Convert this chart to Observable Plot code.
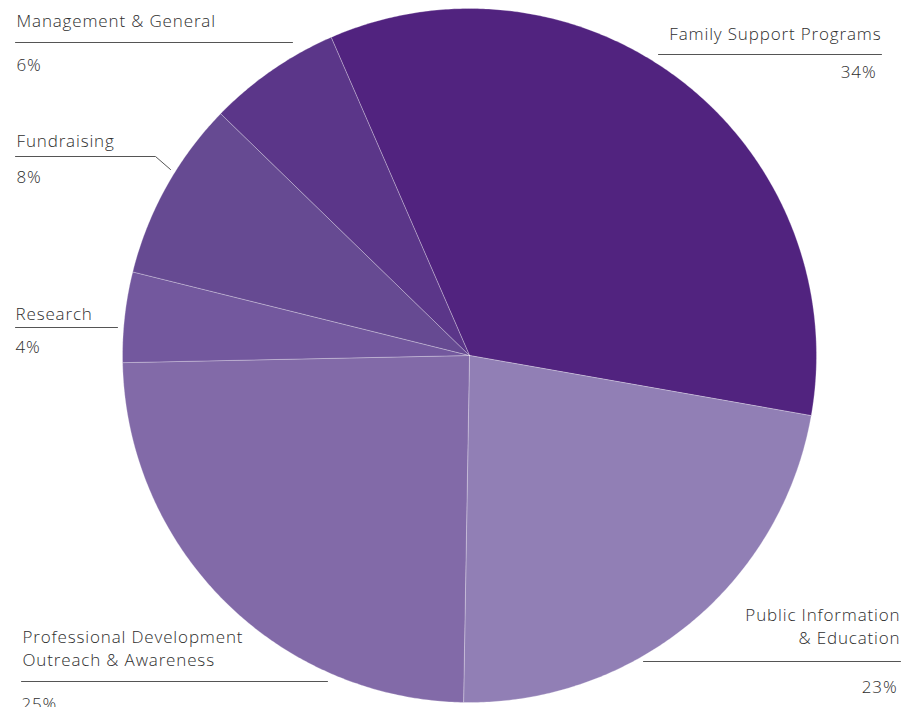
<!DOCTYPE html>
<html>
<head>
<meta charset="utf-8">
<script src="https://cdn.jsdelivr.net/npm/d3@7"></script>
<script src="https://cdn.jsdelivr.net/npm/@observablehq/plot@0.6"></script>
<style>
  html, body { margin: 0; padding: 0; background: #fff; }
  #chart svg { display: block; }
  #chart svg text { letter-spacing: 0.85px; }
</style>
</head>
<body>
<div id="chart"></div>
<script>
// ---- data ----
const categories = ["Family Support Programs", "Public Information\n& Education", "Professional Development\nOutreach & Awareness", "Research", "Fundraising", "Management & General"];
const shares = [34.3, 22.5, 24.4, 4.2, 8.4, 6.2];
const shareLabels = ["34%", "23%", "25%", "4%", "8%", "6%"];
const colors = ["#51237f", "#917fb5", "#826aa8", "#73589e", "#664a92", "#5b3689"];

// ---- layout (pixel units of the plot scales) ----
const W = 914, H = 707;
const cx = 469, cy = 355, R = 347;
const startDeg = -23.5;
const labelLayout = [
  {nx: 881, ny: 40, side: "end", r1: 658, r2: 881, ry: 54, px: 876, py: 77},
  {nx: 900, ny: 621, side: "end", r1: 643, r2: 900, ry: 661, px: 897, py: 692},
  {nx: 22, ny: 643, side: "start", r1: 21, r2: 327, ry: 681, px: 21, py: 709},
  {nx: 15, ny: 320, side: "start", r1: 15, r2: 117, ry: 327, px: 15, py: 352},
  {nx: 16, ny: 147, side: "start", r1: 15, r2: 155, ry: 156, px: 16, py: 182, ex: 170, ey: 169},
  {nx: 16, ny: 27, side: "start", r1: 15, r2: 292, ry: 42, px: 16, py: 70}
];

// ---- pie geometry from data ----
const rows = categories.map((c, i) => ({name: c, value: shares[i], pct: shareLabels[i], color: colors[i], ...labelLayout[i]}));
const arcs = d3.pie().sort(null).value(d => d.value)
  .startAngle(startDeg * Math.PI / 180)
  .endAngle(startDeg * Math.PI / 180 + 2 * Math.PI)(rows);

const slicePts = [];
arcs.forEach((a, i) => {
  const n = Math.max(8, Math.ceil((a.endAngle - a.startAngle) * 120));
  slicePts.push({k: i, x: cx, y: cy, color: a.data.color});
  for (let j = 0; j <= n; j++) {
    const t = a.startAngle + (a.endAngle - a.startAngle) * j / n;
    slicePts.push({k: i, x: cx + R * Math.sin(t), y: cy - R * Math.cos(t), color: a.data.color});
  }
  slicePts.push({k: i, x: cx, y: cy, color: a.data.color});
});

const rulePts = [];
rows.forEach((d, i) => {
  rulePts.push({k: i, x: d.r1, y: d.ry});
  rulePts.push({k: i, x: d.r2, y: d.ry});
  if (d.ex != null) rulePts.push({k: i, x: d.ex, y: d.ey});
});

const font = "'Open Sans', 'Noto Sans', sans-serif";
const leftRows = rows.filter(d => d.side === "start");
const rightRows = rows.filter(d => d.side === "end");
const textOpts = {lineAnchor: "bottom", fontSize: 17, fontWeight: 300, fill: "#2e2e2e", lineHeight: 1.35};
const nameOpts = {fontSize: 17, fontWeight: 300, fill: "#2e2e2e", lineHeight: 1.35, lineAnchor: "top", dy: -16.5};

const chart = Plot.plot({
  width: W,
  height: H,
  margin: 0,
  style: {fontFamily: font, background: "#fff", overflow: "hidden"},
  x: {domain: [0, W], range: [0, W], axis: null},
  y: {domain: [0, H], range: [0, H], axis: null},
  marks: [
    Plot.line(slicePts, {x: "x", y: "y", z: "k", fill: d => d.color, stroke: "#ffffff", strokeOpacity: 0.35, strokeWidth: 0.8, curve: "linear"}),
    Plot.line(rulePts, {x: "x", y: "y", z: "k", stroke: "#555", strokeWidth: 1}),
    Plot.text(leftRows, {x: "nx", y: "ny", text: "name", textAnchor: "start", ...nameOpts}),
    Plot.text(rightRows, {x: "nx", y: "ny", text: "name", textAnchor: "end", ...nameOpts}),
    Plot.text(leftRows, {x: "px", y: "py", text: "pct", textAnchor: "start", ...textOpts}),
    Plot.text(rightRows, {x: "px", y: "py", text: "pct", textAnchor: "end", ...textOpts})
  ]
});
document.getElementById("chart").append(chart);
</script>
</body>
</html>
